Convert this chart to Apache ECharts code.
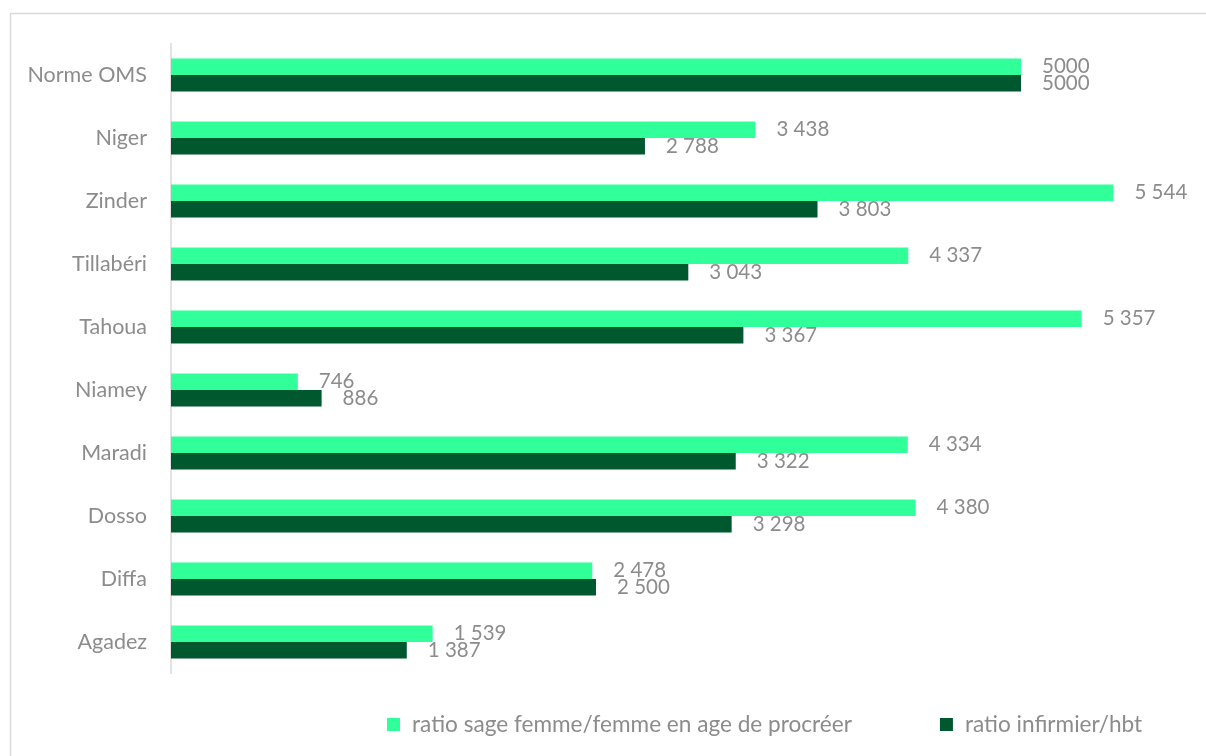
<!DOCTYPE html>
<html>
<head>
<meta charset="utf-8">
<script src="https://cdn.jsdelivr.net/npm/echarts@6/dist/echarts.min.js"></script>
<style>
  html, body { margin: 0; padding: 0; background: #fff; }
  #chart { width: 1206px; height: 756px; }
</style>
</head>
<body>
<div id="chart"></div>
<script>
// categories listed top to bottom
const regions = ['Norme OMS', 'Niger', 'Zinder', 'Tillabéri', 'Tahoua', 'Niamey', 'Maradi', 'Dosso', 'Diffa', 'Agadez']
const sageFemme = [5000, 3438, 5544, 4337, 5357, 746, 4334, 4380, 2478, 1539]
const infirmier = [5000, 2788, 3803, 3043, 3367, 886, 3322, 3298, 2500, 1387]
const seriesNames = ['ratio sage femme/femme en age de procréer', 'ratio infirmier/hbt']
const colors = ['#30FF9A', '#00582F']

const FONT = 'Lato'
const GREY = '#8c8c8c'

function fmt(params) {
  if (params.name === 'Norme OMS') return String(params.value)
  return String(params.value).replace(/\B(?=(\d{3})+(?!\d))/g, ' ')
}

const chart = echarts.init(document.getElementById('chart'))

function barSeries(i, values) {
  return {
    name: seriesNames[i],
    type: 'bar',
    data: values,
    barWidth: 16.5,
    barGap: '0%',
    itemStyle: { color: colors[i] },
    label: {
      show: true,
      position: 'right',
      distance: 21,
      formatter: fmt,
      color: GREY,
      fontFamily: FONT,
      fontSize: 20.5
    }
  }
}

chart.setOption({
  animation: false,
  textStyle: { fontFamily: FONT },
  graphic: [{
    type: 'rect',
    shape: { x: 10.5, y: 13.5, width: 1400, height: 900 },
    style: { fill: 'none', stroke: '#d9d9d9', lineWidth: 1.5 },
    silent: true
  }],
  legend: {
    left: 387,
    top: 713,
    padding: 0,
    itemWidth: 13,
    itemHeight: 13,
    itemGap: 88,
    icon: 'rect',
    textStyle: { color: GREY, fontFamily: FONT, fontSize: 22.6, padding: [0, 0, 0, 7] }
  },
  grid: {
    left: 171,
    top: 43.5,
    width: 1020,
    height: 630
  },
  xAxis: {
    type: 'value',
    min: 0,
    max: 6000,
    show: false,
    splitLine: { show: false }
  },
  yAxis: {
    type: 'category',
    data: regions,
    inverse: true,
    axisLine: { lineStyle: { color: '#d9d9d9', width: 1.5 } },
    axisTick: { show: false },
    axisLabel: { color: GREY, fontFamily: FONT, fontSize: 21.5, margin: 24 }
  },
  series: [barSeries(0, sageFemme), barSeries(1, infirmier)]
})
</script>
</body>
</html>
